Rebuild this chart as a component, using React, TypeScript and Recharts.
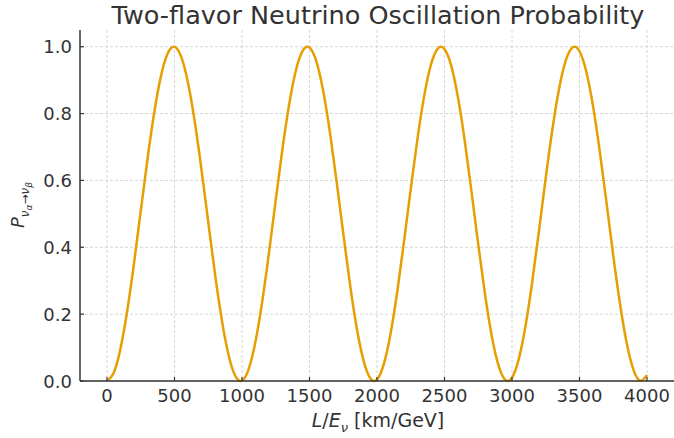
import { LineChart, Line, XAxis, YAxis, CartesianGrid } from "recharts";

// L/E values (km/GeV) and oscillation probability
const lOverE = [
  0, 50, 100, 150, 200, 250, 300, 350, 400, 450, 500, 550, 600, 650, 700, 750, 800, 850, 900, 950,
  1000, 1050, 1100, 1150, 1200, 1250, 1300, 1350, 1400, 1450, 1500, 1550, 1600, 1650, 1700, 1750,
  1800, 1850, 1900, 1950, 2000, 2050, 2100, 2150, 2200, 2250, 2300, 2350, 2400, 2450, 2500, 2550,
  2600, 2650, 2700, 2750, 2800, 2850, 2900, 2950, 3000, 3050, 3100, 3150, 3200, 3250, 3300, 3350,
  3400, 3450, 3500, 3550, 3600, 3650, 3700, 3750, 3800, 3850, 3900, 3950, 4000,
];
const probability = [
  0, 0.025, 0.0975, 0.2102, 0.3519, 0.5084, 0.664, 0.8033, 0.9128, 0.9803, 0.9995, 0.9696, 0.8924,
  0.7758, 0.6323, 0.475, 0.3203, 0.1836, 0.0786, 0.0156, 0.0011, 0.0365, 0.1182, 0.2381, 0.3841,
  0.5417, 0.6952, 0.8291, 0.9303, 0.9883, 0.9975, 0.957, 0.8709, 0.7473, 0.5996, 0.4417, 0.2893,
  0.1585, 0.0616, 0.0084, 0.0045, 0.05, 0.1406, 0.267, 0.4167, 0.5748, 0.7253, 0.8536, 0.9468,
  0.9944, 0.993, 0.9425, 0.8477, 0.7185, 0.5667, 0.4087, 0.2597, 0.1349, 0.0465, 0.0034, 0.01,
  0.0656, 0.1646, 0.2968, 0.4499, 0.6078, 0.755, 0.8768, 0.9604, 0.9983, 0.9864, 0.926, 0.823,
  0.6875, 0.5335, 0.376, 0.2311, 0.1128, 0.0334, 0.0006, 0.0177,
];
const xTicks = [0, 500, 1000, 1500, 2000, 2500, 3000, 3500, 4000];
const yTicks = [0, 0.2, 0.4, 0.6, 0.8, 1.0];

const data = lOverE.map((x, i) => ({ x, p: probability[i] }));

const FONT = "'DejaVu Sans', sans-serif";
const INK = "#333333";
const PLOT_LEFT = 80;
const PLOT_BOTTOM = 381;

const XTick = ({ x, payload }: any) => (
  <g>
    <line x1={x} x2={x} y1={PLOT_BOTTOM} y2={PLOT_BOTTOM - 4} stroke={INK} strokeWidth={1.2} />
    <text x={x} y={402} textAnchor="middle" fill={INK} fontSize={18} fontFamily={FONT}>
      {payload.value}
    </text>
  </g>
);

const YTick = ({ y, payload }: any) => (
  <g>
    <line x1={PLOT_LEFT} x2={PLOT_LEFT + 4} y1={y} y2={y} stroke={INK} strokeWidth={1.2} />
    <text x={72} y={y + 6.5} textAnchor="end" fill={INK} fontSize={18} fontFamily={FONT}>
      {Number(payload.value).toFixed(1)}
    </text>
  </g>
);

export default function App() {
  return (
    <div
      style={{
        position: "absolute",
        left: 0,
        top: 0,
        width: 674,
        height: 438,
        background: "#fff",
        fontFamily: FONT,
        color: INK,
        overflow: "hidden",
      }}
    >
      <div
        style={{
          position: "absolute",
          left: 378,
          top: 0,
          transform: "translateX(-50%)",
          fontSize: 25.5,
          lineHeight: "normal",
          whiteSpace: "nowrap",
        }}
      >
        Two-flavor Neutrino Oscillation Probability
      </div>
      <LineChart
        width={674}
        height={438}
        data={data}
        margin={{ top: 30, right: 0, bottom: 0, left: 0 }}
      >
        <CartesianGrid
          stroke="#cccccc"
          strokeDasharray="3 2"
          strokeWidth={0.8}
          horizontalValues={yTicks}
          verticalValues={xTicks}
        />
        <XAxis
          dataKey="x"
          type="number"
          domain={[-200, 4200]}
          ticks={xTicks}
          height={57}
          axisLine={{ stroke: INK, strokeWidth: 1.5 }}
          tickLine={false}
          tick={<XTick />}
          interval={0}
        />
        <YAxis
          type="number"
          domain={[0, 1.05]}
          ticks={yTicks}
          width={80}
          axisLine={{ stroke: INK, strokeWidth: 1.5 }}
          tickLine={false}
          tick={<YTick />}
          interval={0}
        />
        <Line
          type="natural"
          dataKey="p"
          stroke="#e69f00"
          strokeWidth={2.5}
          dot={false}
          isAnimationActive={false}
        />
      </LineChart>
      <div
        style={{
          position: "absolute",
          left: 378,
          top: 409,
          transform: "translateX(-50%)",
          fontSize: 19,
          lineHeight: "22px",
          whiteSpace: "nowrap",
        }}
      >
        <i>L</i>/<i>E</i>
        <sub style={{ fontSize: 13, fontStyle: "italic", lineHeight: 0 }}>ν</sub> [km/GeV]
      </div>
      <div
        style={{
          position: "absolute",
          left: 20,
          top: 205,
          transform: "translate(-50%, -50%) rotate(-90deg)",
          fontSize: 18,
          whiteSpace: "nowrap",
        }}
      >
        <i>P</i>
        <sub style={{ fontSize: 12 }}>
          <i>ν</i>
          <sub style={{ fontSize: 9 }}>
            <i>α</i>
          </sub>
          →<i>ν</i>
          <sub style={{ fontSize: 9 }}>
            <i>β</i>
          </sub>
        </sub>
      </div>
    </div>
  );
}
